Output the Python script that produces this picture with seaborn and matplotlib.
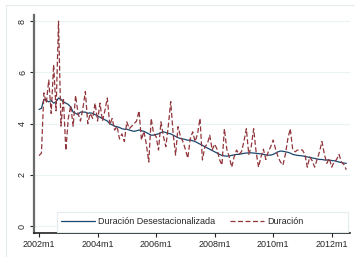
import numpy as np
import pandas as pd
import seaborn as sns
import matplotlib.pyplot as plt
from matplotlib.patches import Rectangle

# meses desde 2002m1 (indice 0) hasta 2012m7
duracion = [2.75, 2.85, 5.2, 4.8, 5.7, 4.4, 6.3, 4.5, 8.0, 3.9,
            5.0, 2.95, 4.2, 4.7, 3.9, 5.1, 4.4, 4.1, 4.6, 5.25,
            4.0, 4.4, 4.2, 4.8, 4.1, 4.8, 4.1, 4.5, 5.0, 3.95,
            4.2, 3.75, 3.9, 3.4, 3.6, 3.3, 4.07, 3.8, 3.9, 4.0,
            4.1, 4.5, 3.36, 3.7, 3.2, 2.5, 4.2, 3.6, 3.5, 2.97,
            4.07, 3.5, 3.1, 3.9, 4.86, 3.6, 2.77, 3.88, 3.5, 3.3,
            3.0, 2.65, 3.4, 3.68, 3.3, 3.6, 4.2, 2.58, 3.1, 3.2,
            3.55, 2.97, 3.2, 3.0, 2.6, 2.38, 3.8, 3.0, 2.7, 2.3,
            2.7, 2.97, 2.8, 2.9, 3.3, 3.8, 2.8, 3.1, 3.8, 2.9,
            2.3, 2.7, 3.0, 2.6, 2.9, 3.1, 3.36, 3.0, 2.7, 2.5,
            2.38, 2.8, 3.4, 3.8, 3.0, 2.9, 2.97, 2.97, 2.97, 2.8,
            2.3, 2.7, 2.55, 2.3, 2.6, 2.9, 3.3, 2.8, 2.45, 2.65,
            2.3, 2.5, 2.6, 2.8, 2.5, 2.4, 2.2]

desestacionalizada = [4.55, 4.6, 4.95, 4.9, 4.85, 4.9, 4.8, 4.85, 5.0, 4.95,
                      4.85, 4.8, 4.75, 4.65, 4.45, 4.4, 4.35, 4.45, 4.45, 4.45,
                      4.4, 4.42, 4.4, 4.35, 4.3, 4.25, 4.2, 4.15, 4.1, 4.0,
                      3.95, 3.9, 3.88, 3.85, 3.8, 3.78, 3.78, 3.75, 3.72, 3.7,
                      3.72, 3.75, 3.72, 3.7, 3.65, 3.6, 3.55, 3.55, 3.58, 3.6,
                      3.65, 3.68, 3.65, 3.62, 3.6, 3.55, 3.5, 3.45, 3.42, 3.4,
                      3.38, 3.35, 3.36, 3.33, 3.3, 3.25, 3.2, 3.15, 3.1, 3.05,
                      3.0, 2.95, 2.9, 2.85, 2.8, 2.76, 2.74, 2.73, 2.74, 2.76,
                      2.78, 2.8, 2.8, 2.82, 2.84, 2.85, 2.86, 2.86, 2.85, 2.84,
                      2.83, 2.82, 2.8, 2.78, 2.77, 2.77, 2.8, 2.85, 2.9, 2.93,
                      2.92, 2.9, 2.88, 2.85, 2.8, 2.78, 2.76, 2.75, 2.74, 2.72,
                      2.7, 2.68, 2.66, 2.64, 2.62, 2.6, 2.6, 2.58, 2.58, 2.57,
                      2.56, 2.55, 2.53, 2.5, 2.48, 2.46, 2.45]

tick_pos = [0, 24, 48, 72, 96, 120]
tick_labels = ['2002m1', '2004m1', '2006m1', '2008m1', '2010m1', '2012m1']

mes = np.arange(len(duracion))
df = pd.DataFrame({'mes': mes, 'Duración Desestacionalizada': desestacionalizada,
                   'Duración': duracion})

sns.set_style('white')
plt.rcParams['font.family'] = ['Liberation Sans', 'DejaVu Sans']

fig = plt.figure(figsize=(3.55, 2.57), dpi=100)
# marco exterior estilo Stata
fig.patches.append(Rectangle((6 / 355, -0.1), 1.2, 1 - 5 / 257 + 0.1, transform=fig.transFigure,
                             fill=False, edgecolor='#e3ecef', linewidth=0.8))
ax = fig.add_axes([34 / 355, 1 - 233 / 257, 316 / 355, 218 / 257])

sns.lineplot(data=df, x='mes', y='Duración Desestacionalizada', ax=ax, color='#1a476f',
             linewidth=0.9, label='Duración Desestacionalizada')
sns.lineplot(data=df, x='mes', y='Duración', ax=ax, color='#90353b',
             linewidth=0.9, label='Duración')
ax.lines[1].set_dashes((4, 2))

ax.set_xlim(-2.05, 127.5)
ax.set_ylim(-0.27, 8.24)
ax.set_yticks([0, 2, 4, 6, 8])
ax.set_yticklabels(['0', '2', '4', '6', '8'], rotation=90, va='center')
ax.set_xticks(tick_pos)
ax.set_xticklabels(tick_labels)
ax.set_xlabel('')
ax.set_ylabel('')
ax.tick_params(axis='both', direction='out', length=3, width=0.8, labelsize=6.5,
               color='#222222', pad=2, left=True, bottom=True)

ax.grid(axis='y', color='#eaf2f3', linewidth=0.8)
ax.set_axisbelow(True)
for s in ['top', 'right']:
    ax.spines[s].set_visible(False)
ax.spines['left'].set_color('#6a6a6a')
ax.spines['left'].set_linewidth(1.6)
ax.spines['bottom'].set_color('#222222')
ax.spines['bottom'].set_linewidth(1.2)

# caja de la leyenda (ancha, como en Stata)
ax.add_patch(Rectangle((23 / 316, 1 / 218), 291 / 316, 20 / 218, transform=ax.transAxes,
                       facecolor='white', edgecolor='#e3ecef', linewidth=0.8, zorder=4))
leg = ax.legend(loc='center left', bbox_to_anchor=(27 / 316, 11 / 218), ncol=2, fontsize=6.5,
                frameon=False, handlelength=3.77, handletextpad=0.35,
                columnspacing=1.66, borderpad=0, borderaxespad=0)
leg.set_zorder(5)

fig.savefig('out.png', dpi=100)
